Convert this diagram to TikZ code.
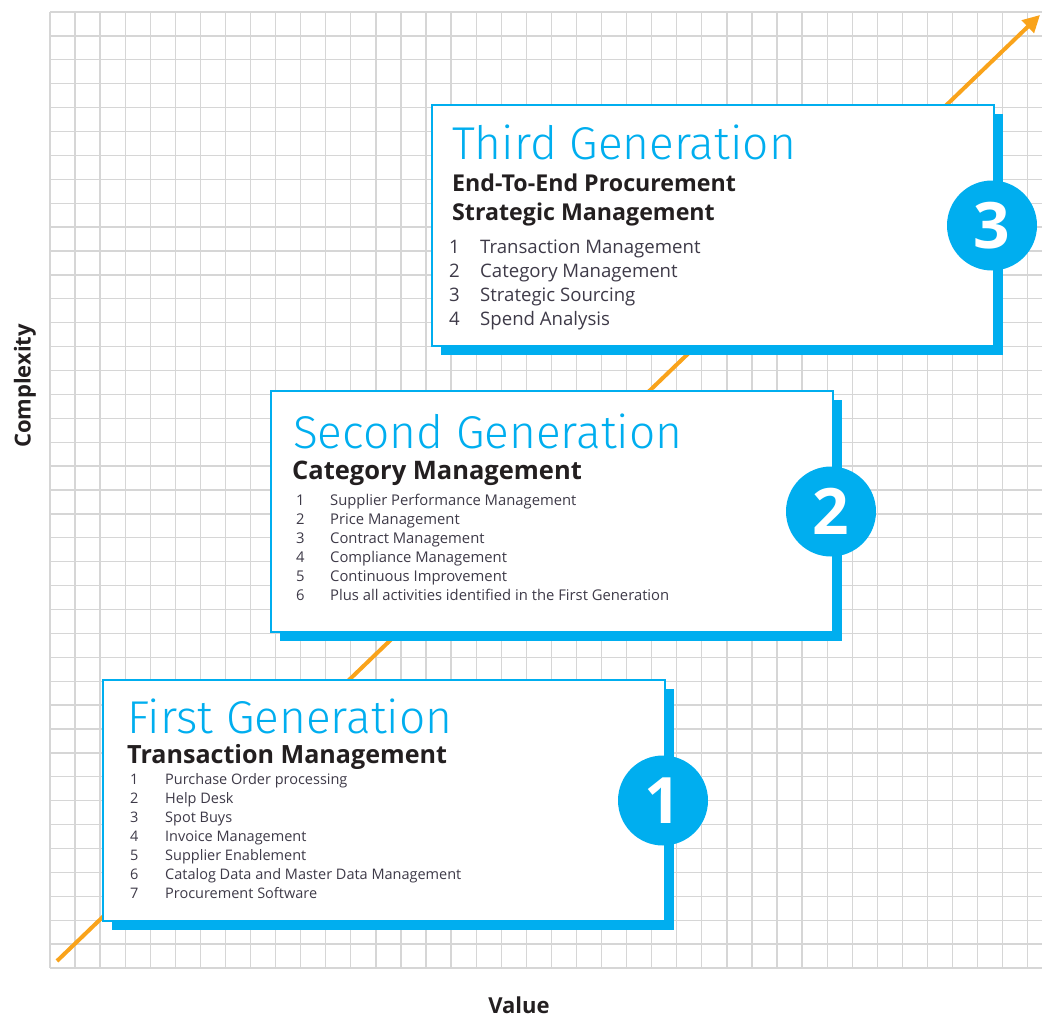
\documentclass[tikz,border=0pt]{standalone}
\usepackage{fontspec}
\setmainfont{Open Sans}
\newfontfamily\titlefont{Fira Sans Light}
\usetikzlibrary{arrows.meta, shadows}

\definecolor{genblue}{HTML}{00AEEF}
\definecolor{arroworange}{HTML}{F9A31B}
\definecolor{gridgray}{HTML}{D6D6D6}
\definecolor{itemgray}{HTML}{3E3A48}
\definecolor{headblack}{HTML}{231F20}

\begin{document}
\begin{tikzpicture}[
  x=1pt, y=-1pt,
  gridline/.style={draw=gridgray, line width=1.3pt},
  genbox/.style={rectangle, draw=genblue, line width=2pt, fill=white, anchor=north west,
    minimum width=562pt, minimum height=241pt, inner sep=0pt,
    drop shadow={fill=genblue, opacity=1, shadow xshift=9pt, shadow yshift=-9pt}},
  badge/.style={circle, fill=genblue, minimum size=90pt, inner sep=0pt, text=white,
    font=\bfseries\fontsize{64}{64}\selectfont},
  gentitle/.style={anchor=base west, inner sep=0pt, text=genblue, font=\titlefont\fontsize{46}{46}\selectfont},
  genhead/.style={anchor=base west, inner sep=0pt, text=headblack, font=\bfseries\fontsize{#1}{#1}\selectfont},
  item/.style={anchor=base west, inner sep=0pt, text=itemgray, font=\fontsize{#1}{#1}\selectfont},
  axislabel/.style={inner sep=0pt, text=headblack, font=\bfseries\fontsize{22}{22}\selectfont},
  growth/.style={draw=arroworange, line width=4pt, -{Triangle[length=17pt, width=17pt]}},
]
\useasboundingbox (0,0) rectangle (1042,1017);

% grid
\foreach \i in {0,...,39}
  \draw[gridline] ({50+\i*25.07},12) -- ({50+\i*25.07},968);
\foreach \j in {0,...,40}
  \draw[gridline] (50,{12+\j*23.9}) -- (1042,{12+\j*23.9});

% growth arrow
\coordinate (risestart) at (57,961);
\coordinate (riseend) at (1040,15);
\draw[growth] (risestart) -- (riseend);

% boxes
\node[genbox] (box3) at (431,104) {};
\node[genbox] (box2) at (270,390) {};
\node[genbox] (box1) at (102,679) {};

\node[badge] (badge3) at ([xshift=-3pt]box3.east) {3};
\node[badge] (badge2) at ([xshift=-3pt]box2.east) {2};
\node[badge] (badge1) at ([xshift=-3pt]box1.east) {1};

% third generation
\node[gentitle] (title3) at (452,159) {Third Generation};
\node[genhead=23.2] (head3a) at (452,191) {End-To-End Procurement};
\node[genhead=23.2] (head3b) at (452,220) {Strategic Management};
\foreach \txt [count=\k] in {Transaction Management, Category Management,
    Strategic Sourcing, Spend Analysis}{
  \node[item=18.6] (third-n\k) at (449,{253+24*(\k-1)}) {\k};
  \node[item=18.6] (third-i\k) at (480,{253+24*(\k-1)}) {\txt};
}

% second generation
\node[gentitle] (title2) at (293,448) {Second Generation};
\node[genhead=25.5] (head2) at (292,479) {Category Management};
\foreach \txt [count=\k] in {Supplier Performance Management, Price Management,
    Contract Management, Compliance Management, Continuous Improvement,
    Plus all activities identified in the First Generation}{
  \node[item=14.8] (second-n\k) at (296,{505+19*(\k-1)}) {\k};
  \node[item=14.8] (second-i\k) at (330,{505+19*(\k-1)}) {\txt};
}

% first generation
\node[gentitle] (title1) at (127,733) {First Generation};
\node[genhead=25.1] (head1) at (127,763) {Transaction Management};
\foreach \txt [count=\k] in {Purchase Order processing, Help Desk, Spot Buys,
    Invoice Management, Supplier Enablement,
    Catalog Data and Master Data Management, Procurement Software}{
  \node[item=14.5] (first-n\k) at (130,{784+19*(\k-1)}) {\k};
  \node[item=14.5] (first-i\k) at (165,{784+19*(\k-1)}) {\txt};
}

% axes
\node[axislabel, rotate=90] (ylabel) at (25,386) {Complexity};
\node[axislabel, anchor=base] (xlabel) at (519,1013) {Value};

\end{tikzpicture}
\end{document}
